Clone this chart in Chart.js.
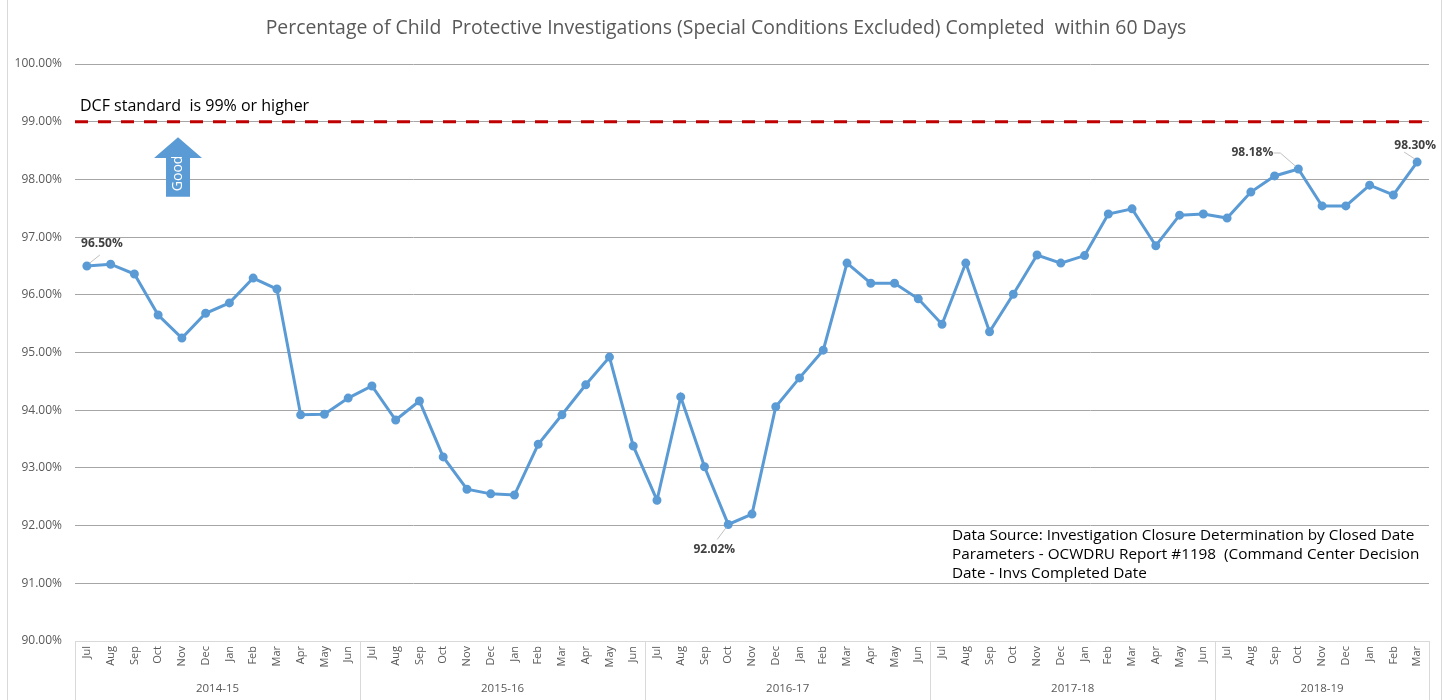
<!DOCTYPE html>
<html>
<head>
<meta charset="utf-8">
<script src="https://cdn.jsdelivr.net/npm/chart.js@4.4.1/dist/chart.umd.min.js"></script>
<style>
  html, body { margin: 0; padding: 0; background: #fff; }
  #wrap { width: 1448px; height: 700px; position: relative; }
</style>
</head>
<body>
<div id="wrap"><canvas id="grafico" width="1448" height="700"></canvas></div>
<script>
const meses = [
  "Jul","Aug","Sep","Oct","Nov","Dec","Jan","Feb","Mar","Apr","May","Jun",
  "Jul","Aug","Sep","Oct","Nov","Dec","Jan","Feb","Mar","Apr","May","Jun",
  "Jul","Aug","Sep","Oct","Nov","Dec","Jan","Feb","Mar","Apr","May","Jun",
  "Jul","Aug","Sep","Oct","Nov","Dec","Jan","Feb","Mar","Apr","May","Jun",
  "Jul","Aug","Sep","Oct","Nov","Dec","Jan","Feb","Mar"
];
const anosFiscais = ["2014-15", "2015-16", "2016-17", "2017-18", "2018-19"];
const mesesPorAno = [12, 12, 12, 12, 9];

const percentuais = [
  96.50, 96.53, 96.36, 95.65, 95.25, 95.68, 95.86, 96.29, 96.10, 93.92, 93.93, 94.21,
  94.42, 93.83, 94.16, 93.19, 92.63, 92.55, 92.53, 93.41, 93.92, 94.44, 94.92, 93.38,
  92.44, 94.23, 93.02, 92.02, 92.20, 94.06, 94.56, 95.04, 96.55, 96.20, 96.20, 95.93,
  95.49, 96.55, 95.36, 96.01, 96.69, 96.55, 96.68, 97.40, 97.49, 96.85, 97.38, 97.40,
  97.33, 97.78, 98.06, 98.18, 97.54, 97.54, 97.90, 97.73, 98.30
];
const pontosRotulados = [0, 27, 51, 56];
const padraoDCF = 99;
const textoPadrao = "DCF standard  is 99% or higher";
const titulo = "Percentage of Child  Protective Investigations (Special Conditions Excluded) Completed  within 60 Days";
const fonteDados = [
  "Data Source: Investigation Closure Determination by Closed Date",
  "Parameters - OCWDRU Report #1198  (Command Center Decision",
  "Date - Invs Completed Date"
];

const FONTE = "'Open Sans', 'Noto Sans', sans-serif";
const AZUL = "#5b9bd5";

// deslocamentos dos rótulos (texto e linha guia) em px
const estiloRotulos = {
  0:  { dx: 15, dy: -22, guia: [[3, -3], [13, -11]] },
  27: { dx: -14, dy: 25, guia: [[-2, 3], [-11, 15]] },
  51: { dx: -46, dy: -16, guia: [[-3, -3], [-18, -16], [-25, -16]] },
  56: { dx: -2, dy: -17, guia: [[-2, -3], [-13, -10]] }
};

const pluginDesenhos = {
  id: "desenhos",
  beforeDatasetsDraw(chart) {
    const { ctx, chartArea, scales } = chart;
    const y = scales.y.getPixelForValue(padraoDCF);
    ctx.save();
    ctx.strokeStyle = "#c00000";
    ctx.lineWidth = 3;
    ctx.setLineDash([13, 10]);
    ctx.beginPath();
    ctx.moveTo(chartArea.left, y);
    ctx.lineTo(chartArea.right, y);
    ctx.stroke();
    ctx.setLineDash([]);

    ctx.fillStyle = "#000";
    ctx.font = "16px " + FONTE;
    ctx.textAlign = "left";
    ctx.textBaseline = "alphabetic";
    ctx.fillText(textoPadrao, chartArea.left + 5, y - 11);

    // seta "Good"
    const xs = scales.x;
    const cx = (xs.getPixelForValue(3) + xs.getPixelForValue(4)) / 2 + 8;
    const yTopo = scales.y.getPixelForValue(98.73);
    const yBase = scales.y.getPixelForValue(98.37);
    const yFim = scales.y.getPixelForValue(97.70);
    ctx.fillStyle = AZUL;
    ctx.beginPath();
    ctx.moveTo(cx, yTopo);
    ctx.lineTo(cx + 24, yBase);
    ctx.lineTo(cx + 12, yBase);
    ctx.lineTo(cx + 12, yFim);
    ctx.lineTo(cx - 12, yFim);
    ctx.lineTo(cx - 12, yBase);
    ctx.lineTo(cx - 24, yBase);
    ctx.closePath();
    ctx.fill();
    ctx.save();
    ctx.translate(cx, (yBase + yFim) / 2 - 4);
    ctx.rotate(-Math.PI / 2);
    ctx.fillStyle = "#fff";
    ctx.font = "14px " + FONTE;
    ctx.textAlign = "center";
    ctx.textBaseline = "middle";
    ctx.fillText("Good", 0, 0);
    ctx.restore();

    // fonte dos dados
    ctx.fillStyle = "#000";
    ctx.font = "15.3px " + FONTE;
    ctx.textAlign = "left";
    ctx.textBaseline = "middle";
    fonteDados.forEach((linha, i) => ctx.fillText(linha, 952, 536 + i * 19));
    ctx.restore();
  },
  afterDatasetsDraw(chart) {
    const { ctx } = chart;
    const meta = chart.getDatasetMeta(0);
    ctx.save();
    pontosRotulados.forEach(i => {
      const p = meta.data[i];
      const est = estiloRotulos[i];
      ctx.strokeStyle = "#bfbfbf";
      ctx.lineWidth = 1;
      ctx.beginPath();
      est.guia.forEach(([gx, gy], k) => {
        if (k === 0) ctx.moveTo(p.x + gx, p.y + gy);
        else ctx.lineTo(p.x + gx, p.y + gy);
      });
      ctx.stroke();
      ctx.fillStyle = "#404040";
      ctx.font = "bold 12px " + FONTE;
      ctx.textAlign = "center";
      ctx.textBaseline = "middle";
      ctx.fillText(percentuais[i].toFixed(2) + "%", p.x + est.dx, p.y + est.dy);
    });
    ctx.restore();
  },
  afterDraw(chart) {
    const { ctx, chartArea, scales } = chart;
    const xs = scales.x;
    ctx.save();
    // título
    ctx.fillStyle = "#595959";
    ctx.font = "19.4px " + FONTE;
    ctx.textAlign = "center";
    ctx.textBaseline = "middle";
    ctx.fillText(titulo, 726, 28);

    // borda externa
    ctx.strokeStyle = "#d9d9d9";
    ctx.lineWidth = 1;
    ctx.beginPath();
    ctx.moveTo(7.5, 0); ctx.lineTo(7.5, 700);
    ctx.moveTo(1441.5, 0); ctx.lineTo(1441.5, 700);
    ctx.stroke();

    // eixo x e grupos de anos
    const base = chartArea.bottom;
    ctx.beginPath();
    ctx.moveTo(chartArea.left, base + 0.5);
    ctx.lineTo(chartArea.right, base + 0.5);
    let inicio = 0;
    const limites = [];
    mesesPorAno.forEach(n => { limites.push([inicio, inicio + n]); inicio += n; });
    const passo = xs.getPixelForValue(1) - xs.getPixelForValue(0);
    limites.forEach(([a, b]) => {
      const xa = Math.round(xs.getPixelForValue(a) - passo / 2) + 0.5;
      ctx.moveTo(xa, base);
      ctx.lineTo(xa, 700);
    });
    const xf = Math.round(xs.getPixelForValue(inicio - 1) + passo / 2) + 0.5;
    ctx.moveTo(xf, base);
    ctx.lineTo(xf, 700);
    ctx.stroke();

    ctx.fillStyle = "#595959";
    ctx.font = "11.5px " + FONTE;
    ctx.textBaseline = "middle";
    limites.forEach(([a, b], k) => {
      const xm = (xs.getPixelForValue(a) + xs.getPixelForValue(b - 1)) / 2;
      ctx.fillText(anosFiscais[k], xm, 689);
    });
    ctx.restore();
  }
};

new Chart(document.getElementById("grafico"), {
  type: "line",
  data: {
    labels: meses,
    datasets: [{
      data: percentuais,
      borderColor: AZUL,
      backgroundColor: AZUL,
      borderWidth: 3,
      pointRadius: 3,
      pointHoverRadius: 3,
      tension: 0,
      fill: false
    }]
  },
  plugins: [pluginDesenhos],
  options: {
    responsive: false,
    animation: false,
    layout: { padding: { top: 64, right: 19, left: 0, bottom: 0 } },
    plugins: { legend: { display: false }, tooltip: { enabled: false }, title: { display: false } },
    scales: {
      x: {
        offset: true,
        grid: { display: false, drawTicks: false },
        border: { display: false },
        ticks: {
          color: "#595959",
          font: { family: FONTE, size: 11 },
          minRotation: 90,
          maxRotation: 90,
          autoSkip: false,
          padding: 5
        },
        afterFit(scale) { scale.height = 59; }
      },
      y: {
        min: 90,
        max: 100,
        grid: { color: "#a6a6a6", lineWidth: 1, drawTicks: false },
        border: { display: false },
        ticks: {
          stepSize: 1,
          color: "#595959",
          font: { family: FONTE, size: 12 },
          padding: 13,
          callback: v => Number(v).toFixed(2) + "%"
        },
        afterFit(scale) { scale.width = 75; }
      }
    }
  }
});
</script>
</body>
</html>
